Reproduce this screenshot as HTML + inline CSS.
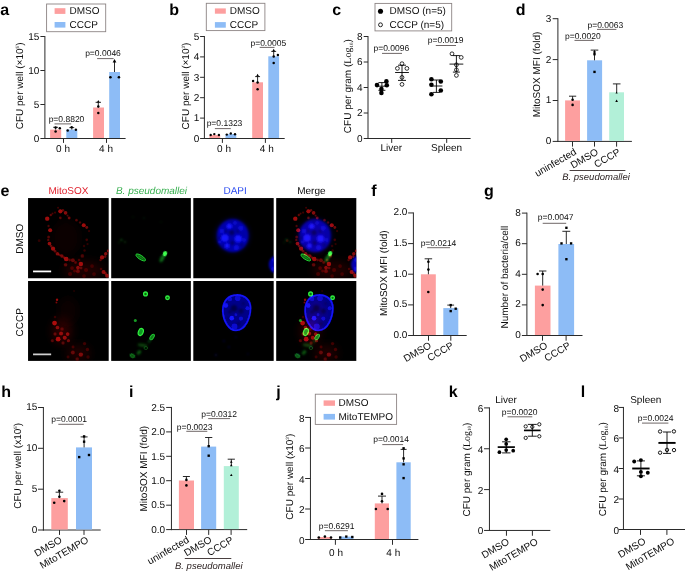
<!DOCTYPE html>
<html><head><meta charset="utf-8"><title>Figure</title>
<style>
html,body{margin:0;padding:0;background:#fff;}
body{width:685px;height:574px;overflow:hidden;}
svg{display:block;font-family:"Liberation Sans", sans-serif;text-rendering:geometricPrecision;}
</style></head><body>
<svg width="685" height="574" viewBox="0 0 685 574">
<rect x="0" y="0" width="685" height="574" fill="#ffffff"/>
<text x="0.20" y="14.60" font-size="16" text-anchor="start" font-weight="bold" font-style="normal" fill="#000">a</text>
<rect x="46.60" y="4.00" width="59.10" height="27.70" fill="#fff" stroke="#8c8484" stroke-width="0.9"/>
<rect x="54.60" y="8.20" width="10.80" height="5.70" fill="#fd9f9f"/>
<rect x="54.60" y="22.00" width="10.80" height="5.60" fill="#8dbcf6"/>
<text x="69.50" y="14.10" font-size="10" text-anchor="start" font-weight="normal" font-style="normal" fill="#0c0c0c">DMSO</text>
<text x="69.50" y="27.80" font-size="10" text-anchor="start" font-weight="normal" font-style="normal" fill="#0c0c0c">CCCP</text>
<line x1="44.90" y1="36.00" x2="44.90" y2="139.00" stroke="#2a2a2a" stroke-width="1.0" stroke-linecap="butt"/>
<line x1="40.40" y1="36.50" x2="44.90" y2="36.50" stroke="#2a2a2a" stroke-width="1.0" stroke-linecap="butt"/>
<text x="39.30" y="39.80" font-size="10" text-anchor="end" font-weight="normal" font-style="normal" fill="#0c0c0c">15</text>
<line x1="40.40" y1="70.50" x2="44.90" y2="70.50" stroke="#2a2a2a" stroke-width="1.0" stroke-linecap="butt"/>
<text x="39.30" y="73.80" font-size="10" text-anchor="end" font-weight="normal" font-style="normal" fill="#0c0c0c">10</text>
<line x1="40.40" y1="104.50" x2="44.90" y2="104.50" stroke="#2a2a2a" stroke-width="1.0" stroke-linecap="butt"/>
<text x="39.30" y="107.80" font-size="10" text-anchor="end" font-weight="normal" font-style="normal" fill="#0c0c0c">5</text>
<line x1="40.40" y1="138.50" x2="44.90" y2="138.50" stroke="#2a2a2a" stroke-width="1.0" stroke-linecap="butt"/>
<text x="39.30" y="141.80" font-size="10" text-anchor="end" font-weight="normal" font-style="normal" fill="#0c0c0c">0</text>
<line x1="44.40" y1="138.50" x2="125.60" y2="138.50" stroke="#2a2a2a" stroke-width="1.0" stroke-linecap="butt"/>
<line x1="63.50" y1="138.50" x2="63.50" y2="142.90" stroke="#2a2a2a" stroke-width="1.0" stroke-linecap="butt"/>
<line x1="106.50" y1="138.50" x2="106.50" y2="142.90" stroke="#2a2a2a" stroke-width="1.0" stroke-linecap="butt"/>
<rect x="50.10" y="129.60" width="11.10" height="8.40" fill="#fd9f9f"/>
<rect x="66.30" y="129.60" width="11.00" height="8.40" fill="#8dbcf6"/>
<rect x="93.10" y="107.50" width="10.90" height="30.50" fill="#fd9f9f"/>
<rect x="109.20" y="72.00" width="10.80" height="66.00" fill="#8dbcf6"/>
<line x1="55.60" y1="127.30" x2="55.60" y2="129.60" stroke="#111" stroke-width="0.9" stroke-linecap="butt"/>
<line x1="53.20" y1="127.30" x2="58.00" y2="127.30" stroke="#111" stroke-width="0.9" stroke-linecap="butt"/>
<line x1="71.80" y1="127.60" x2="71.80" y2="129.60" stroke="#111" stroke-width="0.9" stroke-linecap="butt"/>
<line x1="69.40" y1="127.60" x2="74.20" y2="127.60" stroke="#111" stroke-width="0.9" stroke-linecap="butt"/>
<line x1="98.30" y1="102.30" x2="98.30" y2="107.50" stroke="#111" stroke-width="0.9" stroke-linecap="butt"/>
<line x1="95.60" y1="102.30" x2="101.00" y2="102.30" stroke="#111" stroke-width="0.9" stroke-linecap="butt"/>
<line x1="114.50" y1="61.00" x2="114.50" y2="72.00" stroke="#111" stroke-width="0.9" stroke-linecap="butt"/>
<line x1="114.50" y1="61.00" x2="114.50" y2="61.00" stroke="#111" stroke-width="0.9" stroke-linecap="butt"/>
<circle cx="55.60" cy="131.50" r="1.243" fill="#000"/>
<circle cx="59.80" cy="128.20" r="1.243" fill="#000"/>
<circle cx="55.60" cy="127.60" r="1.243" fill="#000"/>
<circle cx="67.70" cy="130.60" r="1.243" fill="#000"/>
<circle cx="71.70" cy="127.30" r="1.243" fill="#000"/>
<circle cx="75.90" cy="129.80" r="1.243" fill="#000"/>
<circle cx="98.30" cy="113.10" r="1.243" fill="#000"/>
<circle cx="98.30" cy="106.60" r="1.243" fill="#000"/>
<path d="M98.30 99.94 L99.66 102.43 L96.94 102.43Z" fill="#000"/>
<circle cx="110.40" cy="77.30" r="1.299" fill="#000"/>
<circle cx="118.90" cy="77.30" r="1.299" fill="#000"/>
<path d="M114.50 59.00 L116.40 62.48 L112.60 62.48Z" fill="#000"/>
<text x="63.00" y="151.60" font-size="10" text-anchor="middle" font-weight="normal" font-style="normal" fill="#0c0c0c">0 h</text>
<text x="106.00" y="151.60" font-size="10" text-anchor="middle" font-weight="normal" font-style="normal" fill="#0c0c0c">4 h</text>
<text x="23.00" y="85.90" font-size="10" text-anchor="middle" font-weight="normal" font-style="normal" fill="#0c0c0c" transform="rotate(-90 23.00 85.90)">CFU per well (×10<tspan font-size="4.6" dy="-3.8">5</tspan><tspan dy="3.8">)</tspan></text>
<text x="66.50" y="122.00" font-size="8.5" text-anchor="middle" font-weight="normal" font-style="normal" fill="#0c0c0c">p=0.8820</text>
<line x1="54.50" y1="123.90" x2="71.20" y2="123.90" stroke="#4a4040" stroke-width="0.8" stroke-linecap="butt"/>
<text x="103.00" y="55.60" font-size="8.5" text-anchor="middle" font-weight="normal" font-style="normal" fill="#0c0c0c">p=0.0046</text>
<line x1="97.10" y1="58.60" x2="113.60" y2="58.60" stroke="#4a4040" stroke-width="0.8" stroke-linecap="butt"/>
<text x="169.30" y="14.60" font-size="16" text-anchor="start" font-weight="bold" font-style="normal" fill="#000">b</text>
<rect x="206.30" y="3.30" width="58.60" height="27.30" fill="#fff" stroke="#8c8484" stroke-width="0.9"/>
<rect x="214.90" y="8.40" width="10.90" height="5.30" fill="#fd9f9f"/>
<rect x="214.90" y="22.10" width="10.90" height="5.60" fill="#8dbcf6"/>
<text x="229.80" y="14.10" font-size="10" text-anchor="start" font-weight="normal" font-style="normal" fill="#0c0c0c">DMSO</text>
<text x="229.80" y="27.90" font-size="10" text-anchor="start" font-weight="normal" font-style="normal" fill="#0c0c0c">CCCP</text>
<line x1="204.40" y1="36.00" x2="204.40" y2="139.00" stroke="#2a2a2a" stroke-width="1.0" stroke-linecap="butt"/>
<line x1="200.10" y1="36.50" x2="204.40" y2="36.50" stroke="#2a2a2a" stroke-width="1.0" stroke-linecap="butt"/>
<text x="199.30" y="39.80" font-size="10" text-anchor="end" font-weight="normal" font-style="normal" fill="#0c0c0c">5</text>
<line x1="200.10" y1="56.90" x2="204.40" y2="56.90" stroke="#2a2a2a" stroke-width="1.0" stroke-linecap="butt"/>
<text x="199.30" y="60.20" font-size="10" text-anchor="end" font-weight="normal" font-style="normal" fill="#0c0c0c">4</text>
<line x1="200.10" y1="77.30" x2="204.40" y2="77.30" stroke="#2a2a2a" stroke-width="1.0" stroke-linecap="butt"/>
<text x="199.30" y="80.60" font-size="10" text-anchor="end" font-weight="normal" font-style="normal" fill="#0c0c0c">3</text>
<line x1="200.10" y1="97.70" x2="204.40" y2="97.70" stroke="#2a2a2a" stroke-width="1.0" stroke-linecap="butt"/>
<text x="199.30" y="101.00" font-size="10" text-anchor="end" font-weight="normal" font-style="normal" fill="#0c0c0c">2</text>
<line x1="200.10" y1="118.10" x2="204.40" y2="118.10" stroke="#2a2a2a" stroke-width="1.0" stroke-linecap="butt"/>
<text x="199.30" y="121.40" font-size="10" text-anchor="end" font-weight="normal" font-style="normal" fill="#0c0c0c">1</text>
<line x1="200.10" y1="138.50" x2="204.40" y2="138.50" stroke="#2a2a2a" stroke-width="1.0" stroke-linecap="butt"/>
<text x="199.30" y="141.80" font-size="10" text-anchor="end" font-weight="normal" font-style="normal" fill="#0c0c0c">0</text>
<line x1="203.90" y1="138.50" x2="284.70" y2="138.50" stroke="#2a2a2a" stroke-width="1.0" stroke-linecap="butt"/>
<line x1="222.40" y1="138.50" x2="222.40" y2="142.90" stroke="#2a2a2a" stroke-width="1.0" stroke-linecap="butt"/>
<line x1="265.40" y1="138.50" x2="265.40" y2="142.90" stroke="#2a2a2a" stroke-width="1.0" stroke-linecap="butt"/>
<rect x="209.40" y="135.00" width="10.80" height="3.00" fill="#fd9f9f"/>
<rect x="225.50" y="134.10" width="10.80" height="3.90" fill="#8dbcf6"/>
<rect x="252.20" y="82.30" width="10.80" height="55.70" fill="#fd9f9f"/>
<rect x="268.30" y="56.30" width="10.80" height="81.70" fill="#8dbcf6"/>
<line x1="257.60" y1="76.60" x2="257.60" y2="83.00" stroke="#111" stroke-width="0.9" stroke-linecap="butt"/>
<line x1="255.15" y1="76.60" x2="260.05" y2="76.60" stroke="#111" stroke-width="0.9" stroke-linecap="butt"/>
<line x1="273.70" y1="51.40" x2="273.70" y2="57.00" stroke="#111" stroke-width="0.9" stroke-linecap="butt"/>
<line x1="271.25" y1="51.40" x2="276.15" y2="51.40" stroke="#111" stroke-width="0.9" stroke-linecap="butt"/>
<circle cx="210.70" cy="135.00" r="1.186" fill="#000"/>
<circle cx="214.30" cy="134.10" r="1.186" fill="#000"/>
<circle cx="218.90" cy="135.00" r="1.186" fill="#000"/>
<circle cx="226.80" cy="134.60" r="1.186" fill="#000"/>
<circle cx="230.80" cy="133.50" r="1.186" fill="#000"/>
<circle cx="235.00" cy="134.30" r="1.186" fill="#000"/>
<circle cx="253.10" cy="81.00" r="1.243" fill="#000"/>
<circle cx="257.60" cy="89.30" r="1.243" fill="#000"/>
<circle cx="257.60" cy="82.60" r="1.243" fill="#000"/>
<path d="M257.60 73.71 L259.09 76.44 L256.11 76.44Z" fill="#000"/>
<circle cx="277.90" cy="54.90" r="1.243" fill="#000"/>
<circle cx="273.70" cy="63.00" r="1.243" fill="#000"/>
<circle cx="273.70" cy="56.60" r="1.243" fill="#000"/>
<path d="M273.70 48.71 L275.19 51.44 L272.21 51.44Z" fill="#000"/>
<text x="224.00" y="151.60" font-size="10" text-anchor="middle" font-weight="normal" font-style="normal" fill="#0c0c0c">0 h</text>
<text x="266.80" y="151.60" font-size="10" text-anchor="middle" font-weight="normal" font-style="normal" fill="#0c0c0c">4 h</text>
<text x="188.70" y="86.00" font-size="10" text-anchor="middle" font-weight="normal" font-style="normal" fill="#0c0c0c" transform="rotate(-90 188.70 86.00)">CFU per well (×10<tspan font-size="4.6" dy="-3.8">3</tspan><tspan dy="3.8">)</tspan></text>
<text x="224.50" y="125.80" font-size="8.5" text-anchor="middle" font-weight="normal" font-style="normal" fill="#0c0c0c">p=0.1323</text>
<line x1="214.90" y1="128.60" x2="230.80" y2="128.60" stroke="#4a4040" stroke-width="0.8" stroke-linecap="butt"/>
<text x="268.30" y="45.70" font-size="8.5" text-anchor="middle" font-weight="normal" font-style="normal" fill="#0c0c0c">p=0.0005</text>
<line x1="259.70" y1="47.40" x2="274.50" y2="47.40" stroke="#4a4040" stroke-width="0.8" stroke-linecap="butt"/>
<text x="332.30" y="14.80" font-size="16" text-anchor="start" font-weight="bold" font-style="normal" fill="#000">c</text>
<rect x="375.00" y="3.40" width="76.70" height="27.50" fill="#fff" stroke="#8c8484" stroke-width="0.9"/>
<circle cx="380.5" cy="11.2" r="2.55" fill="#000"/>
<circle cx="380.5" cy="24.8" r="1.95" fill="#fff" stroke="#000" stroke-width="0.85"/>
<text x="389.50" y="14.20" font-size="10" text-anchor="start" font-weight="normal" font-style="normal" fill="#0c0c0c">DMSO (n=5)</text>
<text x="389.50" y="27.90" font-size="10" text-anchor="start" font-weight="normal" font-style="normal" fill="#0c0c0c">CCCP (n=5)</text>
<line x1="368.00" y1="36.00" x2="368.00" y2="139.00" stroke="#2a2a2a" stroke-width="1.0" stroke-linecap="butt"/>
<line x1="363.70" y1="36.50" x2="368.00" y2="36.50" stroke="#2a2a2a" stroke-width="1.0" stroke-linecap="butt"/>
<text x="362.50" y="39.80" font-size="10" text-anchor="end" font-weight="normal" font-style="normal" fill="#0c0c0c">8</text>
<line x1="363.70" y1="62.00" x2="368.00" y2="62.00" stroke="#2a2a2a" stroke-width="1.0" stroke-linecap="butt"/>
<text x="362.50" y="65.30" font-size="10" text-anchor="end" font-weight="normal" font-style="normal" fill="#0c0c0c">6</text>
<line x1="363.70" y1="87.50" x2="368.00" y2="87.50" stroke="#2a2a2a" stroke-width="1.0" stroke-linecap="butt"/>
<text x="362.50" y="90.80" font-size="10" text-anchor="end" font-weight="normal" font-style="normal" fill="#0c0c0c">4</text>
<line x1="363.70" y1="113.00" x2="368.00" y2="113.00" stroke="#2a2a2a" stroke-width="1.0" stroke-linecap="butt"/>
<text x="362.50" y="116.30" font-size="10" text-anchor="end" font-weight="normal" font-style="normal" fill="#0c0c0c">2</text>
<line x1="363.70" y1="138.50" x2="368.00" y2="138.50" stroke="#2a2a2a" stroke-width="1.0" stroke-linecap="butt"/>
<text x="362.50" y="141.80" font-size="10" text-anchor="end" font-weight="normal" font-style="normal" fill="#0c0c0c">0</text>
<line x1="367.50" y1="138.50" x2="470.60" y2="138.50" stroke="#2a2a2a" stroke-width="1.0" stroke-linecap="butt"/>
<line x1="391.70" y1="138.50" x2="391.70" y2="142.90" stroke="#2a2a2a" stroke-width="1.0" stroke-linecap="butt"/>
<line x1="446.70" y1="138.50" x2="446.70" y2="142.90" stroke="#2a2a2a" stroke-width="1.0" stroke-linecap="butt"/>
<text x="391.30" y="151.30" font-size="10" text-anchor="middle" font-weight="normal" font-style="normal" fill="#0c0c0c">Liver</text>
<text x="446.60" y="151.30" font-size="10" text-anchor="middle" font-weight="normal" font-style="normal" fill="#0c0c0c">Spleen</text>
<text x="351.20" y="86.20" font-size="10" text-anchor="middle" font-weight="normal" font-style="normal" fill="#0c0c0c" transform="rotate(-90 351.20 86.20)">CFU per gram (<tspan font-family='"Liberation Serif", serif' font-size="10">Log</tspan><tspan font-family='"Liberation Serif", serif' font-size="5" dy="1.5">10</tspan><tspan dy="-1.5">)</tspan></text>
<text x="391.30" y="50.80" font-size="8.5" text-anchor="middle" font-weight="normal" font-style="normal" fill="#0c0c0c">p=0.0096</text>
<line x1="382.00" y1="53.40" x2="402.00" y2="53.40" stroke="#4a4040" stroke-width="0.8" stroke-linecap="butt"/>
<text x="445.60" y="42.90" font-size="8.5" text-anchor="middle" font-weight="normal" font-style="normal" fill="#0c0c0c">p=0.0019</text>
<line x1="435.80" y1="45.50" x2="456.00" y2="45.50" stroke="#4a4040" stroke-width="0.8" stroke-linecap="butt"/>
<line x1="381.90" y1="82.60" x2="381.90" y2="90.30" stroke="#000" stroke-width="0.9" stroke-linecap="butt"/>
<line x1="378.40" y1="82.60" x2="385.40" y2="82.60" stroke="#000" stroke-width="0.9" stroke-linecap="butt"/>
<line x1="378.40" y1="90.30" x2="385.40" y2="90.30" stroke="#000" stroke-width="0.9" stroke-linecap="butt"/>
<line x1="376.65" y1="86.20" x2="387.15" y2="86.20" stroke="#000" stroke-width="0.9" stroke-linecap="butt"/>
<circle cx="377.00" cy="85.10" r="2.3" fill="#000"/>
<circle cx="386.40" cy="81.40" r="2.3" fill="#000"/>
<circle cx="381.40" cy="89.00" r="2.3" fill="#000"/>
<circle cx="386.80" cy="85.30" r="2.3" fill="#000"/>
<circle cx="381.40" cy="92.90" r="2.3" fill="#000"/>
<line x1="402.00" y1="65.20" x2="402.00" y2="80.40" stroke="#000" stroke-width="0.9" stroke-linecap="butt"/>
<line x1="398.00" y1="65.20" x2="406.00" y2="65.20" stroke="#000" stroke-width="0.9" stroke-linecap="butt"/>
<line x1="398.00" y1="80.40" x2="406.00" y2="80.40" stroke="#000" stroke-width="0.9" stroke-linecap="butt"/>
<line x1="395.10" y1="72.50" x2="408.90" y2="72.50" stroke="#000" stroke-width="0.9" stroke-linecap="butt"/>
<circle cx="402.00" cy="63.70" r="1.9" fill="none" stroke="#000" stroke-width="0.8"/>
<circle cx="397.40" cy="68.40" r="1.9" fill="none" stroke="#000" stroke-width="0.8"/>
<circle cx="406.90" cy="68.40" r="1.9" fill="none" stroke="#000" stroke-width="0.8"/>
<circle cx="402.00" cy="77.40" r="1.9" fill="none" stroke="#000" stroke-width="0.8"/>
<circle cx="402.00" cy="84.40" r="1.9" fill="none" stroke="#000" stroke-width="0.8"/>
<line x1="436.40" y1="80.00" x2="436.40" y2="92.40" stroke="#000" stroke-width="0.9" stroke-linecap="butt"/>
<line x1="432.90" y1="80.00" x2="439.90" y2="80.00" stroke="#000" stroke-width="0.9" stroke-linecap="butt"/>
<line x1="432.90" y1="92.40" x2="439.90" y2="92.40" stroke="#000" stroke-width="0.9" stroke-linecap="butt"/>
<line x1="430.40" y1="86.00" x2="442.40" y2="86.00" stroke="#000" stroke-width="0.9" stroke-linecap="butt"/>
<circle cx="431.40" cy="79.30" r="2.3" fill="#000"/>
<circle cx="440.80" cy="81.50" r="2.3" fill="#000"/>
<circle cx="431.40" cy="84.80" r="2.3" fill="#000"/>
<circle cx="440.80" cy="90.50" r="2.3" fill="#000"/>
<circle cx="431.40" cy="94.30" r="2.3" fill="#000"/>
<line x1="456.40" y1="55.60" x2="456.40" y2="72.10" stroke="#000" stroke-width="0.9" stroke-linecap="butt"/>
<line x1="452.90" y1="55.60" x2="459.90" y2="55.60" stroke="#000" stroke-width="0.9" stroke-linecap="butt"/>
<line x1="452.90" y1="72.10" x2="459.90" y2="72.10" stroke="#000" stroke-width="0.9" stroke-linecap="butt"/>
<line x1="449.50" y1="64.10" x2="463.30" y2="64.10" stroke="#000" stroke-width="0.9" stroke-linecap="butt"/>
<circle cx="452.00" cy="53.80" r="1.9" fill="none" stroke="#000" stroke-width="0.8"/>
<circle cx="461.20" cy="57.40" r="1.9" fill="none" stroke="#000" stroke-width="0.8"/>
<circle cx="456.40" cy="64.80" r="1.9" fill="none" stroke="#000" stroke-width="0.8"/>
<circle cx="456.40" cy="69.80" r="1.9" fill="none" stroke="#000" stroke-width="0.8"/>
<circle cx="456.40" cy="75.40" r="1.9" fill="none" stroke="#000" stroke-width="0.8"/>
<text x="515.80" y="15.30" font-size="16" text-anchor="start" font-weight="bold" font-style="normal" fill="#000">d</text>
<line x1="557.90" y1="18.20" x2="557.90" y2="141.90" stroke="#2a2a2a" stroke-width="1.0" stroke-linecap="butt"/>
<line x1="552.70" y1="18.70" x2="557.90" y2="18.70" stroke="#2a2a2a" stroke-width="1.0" stroke-linecap="butt"/>
<text x="551.20" y="21.60" font-size="10" text-anchor="end" font-weight="normal" font-style="normal" fill="#0c0c0c">3</text>
<line x1="552.70" y1="59.60" x2="557.90" y2="59.60" stroke="#2a2a2a" stroke-width="1.0" stroke-linecap="butt"/>
<text x="551.20" y="62.50" font-size="10" text-anchor="end" font-weight="normal" font-style="normal" fill="#0c0c0c">2</text>
<line x1="552.70" y1="100.50" x2="557.90" y2="100.50" stroke="#2a2a2a" stroke-width="1.0" stroke-linecap="butt"/>
<text x="551.20" y="103.40" font-size="10" text-anchor="end" font-weight="normal" font-style="normal" fill="#0c0c0c">1</text>
<line x1="552.70" y1="141.40" x2="557.90" y2="141.40" stroke="#2a2a2a" stroke-width="1.0" stroke-linecap="butt"/>
<text x="551.20" y="144.30" font-size="10" text-anchor="end" font-weight="normal" font-style="normal" fill="#0c0c0c">0</text>
<line x1="557.40" y1="141.40" x2="631.90" y2="141.40" stroke="#2a2a2a" stroke-width="1.0" stroke-linecap="butt"/>
<line x1="572.50" y1="141.40" x2="572.50" y2="146.60" stroke="#2a2a2a" stroke-width="1.0" stroke-linecap="butt"/>
<line x1="594.50" y1="141.40" x2="594.50" y2="146.60" stroke="#2a2a2a" stroke-width="1.0" stroke-linecap="butt"/>
<line x1="616.60" y1="141.40" x2="616.60" y2="146.60" stroke="#2a2a2a" stroke-width="1.0" stroke-linecap="butt"/>
<rect x="565.10" y="100.40" width="14.90" height="40.50" fill="#fd9f9f"/>
<rect x="587.10" y="60.30" width="15.00" height="80.60" fill="#8dbcf6"/>
<rect x="609.20" y="92.30" width="14.80" height="48.60" fill="#b2f0d8"/>
<line x1="572.60" y1="96.20" x2="572.60" y2="100.40" stroke="#111" stroke-width="0.9" stroke-linecap="butt"/>
<line x1="569.00" y1="96.20" x2="576.20" y2="96.20" stroke="#111" stroke-width="0.9" stroke-linecap="butt"/>
<line x1="594.50" y1="50.10" x2="594.50" y2="60.30" stroke="#111" stroke-width="0.9" stroke-linecap="butt"/>
<line x1="590.70" y1="50.10" x2="598.30" y2="50.10" stroke="#111" stroke-width="0.9" stroke-linecap="butt"/>
<line x1="616.70" y1="83.90" x2="616.70" y2="92.30" stroke="#111" stroke-width="0.9" stroke-linecap="butt"/>
<line x1="612.90" y1="83.90" x2="620.50" y2="83.90" stroke="#111" stroke-width="0.9" stroke-linecap="butt"/>
<circle cx="572.60" cy="99.80" r="1.299" fill="#000"/>
<circle cx="572.60" cy="104.90" r="1.299" fill="#000"/>
<rect x="593.31" y="53.01" width="2.372" height="2.372" fill="#000"/>
<rect x="593.31" y="70.71" width="2.372" height="2.372" fill="#000"/>
<rect x="593.48" y="50.98" width="2.034" height="2.034" fill="#000"/>
<path d="M616.60 99.44 L617.96 101.93 L615.24 101.93Z" fill="#000"/>
<path d="M616.60 91.62 L617.68 93.60 L615.52 93.60Z" fill="#000"/>
<text x="539.90" y="74.50" font-size="10" text-anchor="middle" font-weight="normal" font-style="normal" fill="#0c0c0c" transform="rotate(-90 539.90 74.50)">MitoSOX MFI (fold)</text>
<text x="605.30" y="28.00" font-size="8.5" text-anchor="middle" font-weight="normal" font-style="normal" fill="#0c0c0c">p=0.0063</text>
<line x1="597.00" y1="29.40" x2="616.40" y2="29.40" stroke="#4a4040" stroke-width="0.8" stroke-linecap="butt"/>
<text x="582.80" y="38.80" font-size="8.5" text-anchor="middle" font-weight="normal" font-style="normal" fill="#0c0c0c">p=0.0020</text>
<line x1="574.50" y1="40.40" x2="593.90" y2="40.40" stroke="#4a4040" stroke-width="0.8" stroke-linecap="butt"/>
<text x="577.20" y="153.80" font-size="10" text-anchor="end" font-weight="normal" font-style="normal" fill="#0c0c0c" transform="rotate(-30 577.20 153.80)">uninfected</text>
<text x="599.00" y="153.80" font-size="10" text-anchor="end" font-weight="normal" font-style="normal" fill="#0c0c0c" transform="rotate(-30 599.00 153.80)">DMSO</text>
<text x="621.00" y="153.80" font-size="10" text-anchor="end" font-weight="normal" font-style="normal" fill="#0c0c0c" transform="rotate(-30 621.00 153.80)">CCCP</text>
<line x1="569.60" y1="170.50" x2="625.40" y2="170.50" stroke="#4a4040" stroke-width="1.0" stroke-linecap="butt"/>
<text x="596.00" y="179.80" font-size="9.5" text-anchor="middle" font-weight="normal" font-style="italic" fill="#2e2424">B. pseudomallei</text>
<text x="0.50" y="196.20" font-size="16" text-anchor="start" font-weight="bold" font-style="normal" fill="#000">e</text>
<text x="68.40" y="193.50" font-size="10" text-anchor="middle" font-weight="normal" font-style="normal" fill="#e0202c">MitoSOX</text>
<text x="151.50" y="193.50" font-size="10" text-anchor="middle" font-weight="normal" font-style="italic" fill="#38b050">B. pseudomallei</text>
<text x="235.10" y="193.50" font-size="10" text-anchor="middle" font-weight="normal" font-style="normal" fill="#2c4cf0">DAPI</text>
<text x="311.40" y="193.50" font-size="10" text-anchor="middle" font-weight="normal" font-style="normal" fill="#0c0c0c">Merge</text>
<text x="23.30" y="238.80" font-size="10" text-anchor="middle" font-weight="normal" font-style="normal" fill="#0c0c0c" transform="rotate(-90 23.30 238.80)">DMSO</text>
<text x="23.30" y="322.20" font-size="10" text-anchor="middle" font-weight="normal" font-style="normal" fill="#0c0c0c" transform="rotate(-90 23.30 322.20)">CCCP</text>
<defs>
<filter id="b05" x="-50%" y="-50%" width="200%" height="200%"><feGaussianBlur stdDeviation="0.5"/></filter>
<filter id="b06" x="-50%" y="-50%" width="200%" height="200%"><feGaussianBlur stdDeviation="0.6"/></filter>
<filter id="b08" x="-50%" y="-50%" width="200%" height="200%"><feGaussianBlur stdDeviation="0.8"/></filter>
<filter id="b12" x="-50%" y="-50%" width="200%" height="200%"><feGaussianBlur stdDeviation="1.2"/></filter>
<filter id="b2" x="-50%" y="-50%" width="200%" height="200%"><feGaussianBlur stdDeviation="2"/></filter>
<filter id="b4" x="-50%" y="-50%" width="200%" height="200%"><feGaussianBlur stdDeviation="4"/></filter>
<clipPath id="pc"><rect x="0" y="0" width="80.65" height="80.2"/></clipPath>
<g id="R1"><ellipse cx="56" cy="72" rx="20" ry="9" fill="#500" fill-opacity="0.35" filter="url(#b4)"/><ellipse cx="38" cy="40" rx="14" ry="18" fill="#300" fill-opacity="0.2" filter="url(#b4)"/><g filter="url(#b06)"><circle cx="32.3" cy="13.3" r="2.12" fill="#d81212" fill-opacity="0.72"/><circle cx="37.5" cy="14.8" r="1.84" fill="#d81212" fill-opacity="0.61"/><circle cx="19.2" cy="20.6" r="2.21" fill="#d81212" fill-opacity="0.72"/><circle cx="22.8" cy="17.0" r="1.29" fill="#d81212" fill-opacity="0.40"/><circle cx="32.3" cy="19.9" r="1.38" fill="#d81212" fill-opacity="0.40"/><circle cx="41.1" cy="19.9" r="1.47" fill="#d81212" fill-opacity="0.50"/><circle cx="48.4" cy="22.1" r="1.38" fill="#d81212" fill-opacity="0.36"/><circle cx="52" cy="24.5" r="1.20" fill="#d81212" fill-opacity="0.32"/><circle cx="55.7" cy="27.2" r="2.02" fill="#d81212" fill-opacity="0.72"/><circle cx="58.7" cy="29.4" r="1.47" fill="#d81212" fill-opacity="0.50"/><circle cx="22.1" cy="32.3" r="2.02" fill="#d81212" fill-opacity="0.72"/><circle cx="20.6" cy="38.9" r="1.56" fill="#d81212" fill-opacity="0.36"/><circle cx="21.4" cy="45.5" r="1.84" fill="#d81212" fill-opacity="0.68"/><circle cx="25.0" cy="50.6" r="2.12" fill="#d81212" fill-opacity="0.72"/><circle cx="29.4" cy="55.7" r="1.84" fill="#d81212" fill-opacity="0.58"/><circle cx="33.8" cy="57.9" r="1.75" fill="#d81212" fill-opacity="0.54"/><circle cx="38.2" cy="60.9" r="2.30" fill="#d81212" fill-opacity="0.72"/><circle cx="44.8" cy="62.3" r="2.02" fill="#d81212" fill-opacity="0.43"/><circle cx="37.5" cy="66.7" r="1.84" fill="#d81212" fill-opacity="0.40"/><circle cx="52.8" cy="66.0" r="2.21" fill="#d81212" fill-opacity="0.72"/><circle cx="49.9" cy="69.6" r="1.84" fill="#d81212" fill-opacity="0.58"/><circle cx="49.9" cy="73.3" r="2.02" fill="#d81212" fill-opacity="0.40"/><circle cx="54.3" cy="57.9" r="1.84" fill="#d81212" fill-opacity="0.32"/><circle cx="58.7" cy="41.8" r="1.29" fill="#d81212" fill-opacity="0.29"/><circle cx="74.0" cy="59.4" r="2.12" fill="#d81212" fill-opacity="0.72"/><circle cx="77.7" cy="55.7" r="1.75" fill="#d81212" fill-opacity="0.61"/><circle cx="80.2" cy="53.0" r="1.47" fill="#d81212" fill-opacity="0.58"/><circle cx="75.5" cy="74.0" r="2.02" fill="#d81212" fill-opacity="0.65"/><circle cx="79.1" cy="77.7" r="2.02" fill="#d81212" fill-opacity="0.65"/><circle cx="11.1" cy="42.6" r="1.38" fill="#d81212" fill-opacity="0.22"/><circle cx="56" cy="48" r="1.20" fill="#d81212" fill-opacity="0.22"/><circle cx="27" cy="14.5" r="1.10" fill="#d81212" fill-opacity="0.29"/><circle cx="44" cy="70" r="1.84" fill="#d81212" fill-opacity="0.29"/><circle cx="58" cy="72" r="2.02" fill="#d81212" fill-opacity="0.25"/><circle cx="64" cy="68" r="1.84" fill="#d81212" fill-opacity="0.22"/><circle cx="42" cy="76" r="2.02" fill="#d81212" fill-opacity="0.25"/><circle cx="56" cy="78" r="1.84" fill="#d81212" fill-opacity="0.22"/><circle cx="66" cy="76" r="1.84" fill="#d81212" fill-opacity="0.22"/><circle cx="30" cy="9.8" r="1.01" fill="#d81212" fill-opacity="0.29"/><circle cx="24.5" cy="15.5" r="1.10" fill="#d81212" fill-opacity="0.32"/><circle cx="35" cy="12.2" r="1.20" fill="#d81212" fill-opacity="0.43"/><circle cx="39.5" cy="17.5" r="1.10" fill="#d81212" fill-opacity="0.36"/><circle cx="20.5" cy="28" r="1.20" fill="#d81212" fill-opacity="0.32"/><circle cx="20.2" cy="42" r="1.29" fill="#d81212" fill-opacity="0.36"/><circle cx="23" cy="48" r="1.38" fill="#d81212" fill-opacity="0.43"/><circle cx="27" cy="53.2" r="1.38" fill="#d81212" fill-opacity="0.43"/><circle cx="31.5" cy="57" r="1.29" fill="#d81212" fill-opacity="0.40"/><circle cx="36" cy="59.5" r="1.38" fill="#d81212" fill-opacity="0.43"/><circle cx="41.5" cy="62" r="1.47" fill="#d81212" fill-opacity="0.36"/><circle cx="47.5" cy="64.5" r="1.47" fill="#d81212" fill-opacity="0.36"/><circle cx="51" cy="62" r="1.29" fill="#d81212" fill-opacity="0.29"/><circle cx="53" cy="70" r="1.47" fill="#d81212" fill-opacity="0.36"/><circle cx="46.5" cy="73" r="1.47" fill="#d81212" fill-opacity="0.29"/><circle cx="77" cy="58.5" r="1.38" fill="#d81212" fill-opacity="0.43"/><circle cx="72.5" cy="62" r="1.29" fill="#d81212" fill-opacity="0.36"/><circle cx="77.5" cy="75.5" r="1.47" fill="#d81212" fill-opacity="0.43"/><circle cx="73" cy="71" r="1.29" fill="#d81212" fill-opacity="0.29"/><circle cx="61" cy="33" r="1.10" fill="#d81212" fill-opacity="0.25"/><circle cx="59.5" cy="46" r="1.10" fill="#d81212" fill-opacity="0.22"/><circle cx="56.5" cy="52.5" r="1.20" fill="#d81212" fill-opacity="0.25"/></g></g>
<g id="G1"><g filter="url(#b05)"><ellipse cx="29.7" cy="59.4" rx="5.6" ry="2.0" transform="rotate(33 29.7 59.4)" fill="#0a6010" stroke="#24d434" stroke-width="0.9"/><line x1="27" y1="57.7" x2="32.4" y2="61.1" stroke="#20c030" stroke-width="0.5"/></g><ellipse cx="51.2" cy="60.3" rx="1.8" ry="4.2" transform="rotate(28 51.2 60.3)" fill="#109020" fill-opacity="0.8" filter="url(#b12)"/><ellipse cx="54.0" cy="55.6" rx="2.1" ry="2.7" transform="rotate(20 54 55.6)" fill="#40ff50" filter="url(#b05)"/><g filter="url(#b08)"><circle cx="10.4" cy="41.8" r="1.20" fill="#20c030" fill-opacity="0.35"/><circle cx="14.0" cy="44.0" r="1.00" fill="#20c030" fill-opacity="0.30"/><circle cx="8" cy="44.5" r="0.90" fill="#20c030" fill-opacity="0.20"/><circle cx="33" cy="20" r="1.00" fill="#20c030" fill-opacity="0.12"/><circle cx="22" cy="19" r="1.00" fill="#20c030" fill-opacity="0.10"/><circle cx="50" cy="24" r="1.00" fill="#20c030" fill-opacity="0.10"/></g></g>
<g id="B1"><circle cx="38.9" cy="37.5" r="17.5" fill="#000090" fill-opacity="0.35" filter="url(#b2)"/><ellipse cx="38.9" cy="37.6" rx="15.8" ry="16.4" fill="#0404a8" filter="url(#b08)"/><g filter="url(#b12)"><circle cx="38" cy="34.5" r="2.60" fill="#000048" fill-opacity="0.70"/><circle cx="38.5" cy="45" r="2.20" fill="#000048" fill-opacity="0.55"/><circle cx="25.5" cy="40" r="1.80" fill="#000048" fill-opacity="0.45"/><circle cx="44" cy="33" r="1.80" fill="#000048" fill-opacity="0.50"/><circle cx="32" cy="33" r="1.60" fill="#000048" fill-opacity="0.45"/><circle cx="48" cy="47" r="2.00" fill="#000048" fill-opacity="0.40"/><circle cx="30" cy="48" r="1.60" fill="#000048" fill-opacity="0.40"/><circle cx="38" cy="24" r="1.80" fill="#000048" fill-opacity="0.35"/></g><g filter="url(#b08)"><circle cx="31.0" cy="40.0" r="3.80" fill="#1414ff" fill-opacity="1.00"/><circle cx="44.4" cy="40.6" r="3.60" fill="#1414ff" fill-opacity="1.00"/><circle cx="35.5" cy="28.2" r="2.80" fill="#1414ff" fill-opacity="1.00"/><circle cx="33.2" cy="47.8" r="2.50" fill="#1414ff" fill-opacity="1.00"/><circle cx="28" cy="33" r="2.40" fill="#1414ff" fill-opacity="0.60"/><circle cx="47" cy="30" r="2.60" fill="#1414ff" fill-opacity="0.55"/><circle cx="42.5" cy="49.5" r="2.60" fill="#1414ff" fill-opacity="0.60"/><circle cx="50.5" cy="42" r="2.00" fill="#1414ff" fill-opacity="0.50"/><circle cx="41" cy="25" r="2.00" fill="#1414ff" fill-opacity="0.50"/><circle cx="26" cy="44" r="1.80" fill="#1414ff" fill-opacity="0.50"/></g><circle cx="84.5" cy="66.5" r="9.5" fill="#0505b0" filter="url(#b12)"/><g filter="url(#b12)"><circle cx="80.5" cy="62" r="2.00" fill="#1414ff" fill-opacity="0.90"/><circle cx="80" cy="71" r="2.20" fill="#1414ff" fill-opacity="0.90"/></g></g>
<g id="R2"><ellipse cx="34" cy="50" rx="10" ry="13" fill="#600" fill-opacity="0.4" filter="url(#b4)"/><ellipse cx="50" cy="72" rx="12" ry="8" fill="#500" fill-opacity="0.35" filter="url(#b4)"/><ellipse cx="40" cy="30" rx="10" ry="14" fill="#300" fill-opacity="0.2" filter="url(#b4)"/><g filter="url(#b06)"><circle cx="29.0" cy="18.7" r="1.20" fill="#d81212" fill-opacity="0.70"/><circle cx="28.4" cy="21.4" r="1.01" fill="#d81212" fill-opacity="0.55"/><circle cx="26.5" cy="42.1" r="2.39" fill="#d81212" fill-opacity="0.78"/><circle cx="29.4" cy="46.5" r="1.84" fill="#d81212" fill-opacity="0.58"/><circle cx="33.0" cy="52.4" r="2.02" fill="#d81212" fill-opacity="0.62"/><circle cx="39.6" cy="53.1" r="1.84" fill="#d81212" fill-opacity="0.62"/><circle cx="30.1" cy="58.2" r="2.39" fill="#d81212" fill-opacity="0.78"/><circle cx="36.7" cy="56.8" r="2.02" fill="#d81212" fill-opacity="0.66"/><circle cx="40.4" cy="59.7" r="1.66" fill="#d81212" fill-opacity="0.47"/><circle cx="24.3" cy="59.7" r="1.66" fill="#d81212" fill-opacity="0.35"/><circle cx="44.8" cy="71.4" r="2.02" fill="#d81212" fill-opacity="0.39"/><circle cx="52.8" cy="73.6" r="2.21" fill="#d81212" fill-opacity="0.51"/><circle cx="56.5" cy="62.6" r="1.66" fill="#d81212" fill-opacity="0.27"/><circle cx="59.4" cy="68.5" r="1.66" fill="#d81212" fill-opacity="0.27"/><circle cx="49.2" cy="78.0" r="1.84" fill="#d81212" fill-opacity="0.31"/><circle cx="34" cy="48" r="1.84" fill="#d81212" fill-opacity="0.31"/><circle cx="27" cy="53" r="1.66" fill="#d81212" fill-opacity="0.39"/><circle cx="35" cy="62" r="1.66" fill="#d81212" fill-opacity="0.35"/><circle cx="45" cy="66" r="1.47" fill="#d81212" fill-opacity="0.27"/><circle cx="60" cy="76" r="1.66" fill="#d81212" fill-opacity="0.23"/><circle cx="40" cy="76" r="1.47" fill="#d81212" fill-opacity="0.23"/><circle cx="46" cy="10" r="0.92" fill="#d81212" fill-opacity="0.16"/><circle cx="27" cy="36" r="1.29" fill="#d81212" fill-opacity="0.23"/></g></g>
<g id="G2"><g filter="url(#b05)"><circle cx="34.5" cy="12.9" r="1.9" fill="#0a7010" stroke="#30f040" stroke-width="1.3"/><circle cx="56.5" cy="16.8" r="1.8" fill="#0a7010" stroke="#30f040" stroke-width="1.3"/><ellipse cx="29.8" cy="51.0" rx="2.4" ry="3.6" transform="rotate(20 29.8 51)" fill="#109a20" stroke="#30f040" stroke-width="1.2"/><ellipse cx="41.1" cy="56.0" rx="1.6" ry="3.2" transform="rotate(35 41.1 56)" fill="#0c7a18" stroke="#22c432" stroke-width="1.0"/></g><g filter="url(#b05)"><circle cx="24.3" cy="39.5" r="1.50" fill="#20d030" fill-opacity="0.75"/></g><ellipse cx="31.5" cy="64.2" rx="5" ry="1.6" transform="rotate(8 31.5 64.2)" fill="#107018" fill-opacity="0.6" filter="url(#b08)"/><ellipse cx="34.8" cy="67" rx="1.8" ry="1.5" fill="none" stroke="#128a20" stroke-opacity="0.7" stroke-width="0.7" filter="url(#b05)"/><ellipse cx="28.0" cy="71.4" rx="1.6" ry="2.6" transform="rotate(40 28 71.4)" fill="#109020" fill-opacity="0.7" filter="url(#b08)"/><ellipse cx="21.4" cy="74.8" rx="2.6" ry="1.7" transform="rotate(30 21.4 74.8)" fill="#075010" stroke="#18a028" stroke-opacity="0.8" stroke-width="0.8" filter="url(#b05)"/><ellipse cx="38.5" cy="60" rx="1.2" ry="2.4" transform="rotate(35 38.5 60)" fill="#0c6a18" fill-opacity="0.6" filter="url(#b08)"/></g>
<g id="B2"><g transform="translate(42.8 31.8) scale(0.93 0.935) translate(-42.8 -31.8)"><path d="M42.5 12.8 C51 12.2 58 18 57.8 27 C57.6 36 53 50.5 42 50.6 C34 50.6 28.5 40 28 30 C27.6 19 34 13.2 42.5 12.8Z" fill="#000090" fill-opacity="0.3" filter="url(#b2)"/><path d="M42.5 12.8 C51 12.2 58 18 57.8 27 C57.6 36 53 50.5 42 50.6 C34 50.6 28.5 40 28 30 C27.6 19 34 13.2 42.5 12.8Z" fill="#030388" stroke="#1212f4" stroke-width="2.0" filter="url(#b08)"/><g filter="url(#b12)"><circle cx="40" cy="27" r="3.60" fill="#000030" fill-opacity="0.70"/><circle cx="47.5" cy="30" r="2.80" fill="#000030" fill-opacity="0.60"/><circle cx="35.5" cy="31" r="2.20" fill="#000030" fill-opacity="0.50"/><circle cx="45" cy="43.5" r="2.00" fill="#000030" fill-opacity="0.45"/><circle cx="34" cy="38" r="1.60" fill="#000030" fill-opacity="0.40"/><circle cx="50" cy="22" r="2.00" fill="#000030" fill-opacity="0.35"/></g><g filter="url(#b08)"><circle cx="37.6" cy="37.5" r="2.50" fill="#1414ff" fill-opacity="1.00"/><circle cx="31.2" cy="24" r="2.60" fill="#1414ff" fill-opacity="0.85"/><circle cx="44" cy="16.3" r="3.00" fill="#1414ff" fill-opacity="0.60"/><circle cx="54.5" cy="27" r="2.20" fill="#1414ff" fill-opacity="0.70"/><circle cx="47.5" cy="38" r="2.20" fill="#1414ff" fill-opacity="0.60"/><circle cx="40.5" cy="46.5" r="3.20" fill="#1414ff" fill-opacity="0.60"/><circle cx="35.5" cy="17" r="2.40" fill="#1414ff" fill-opacity="0.60"/><circle cx="42" cy="34" r="1.60" fill="#1414ff" fill-opacity="0.50"/></g></g><g filter="url(#b08)"><circle cx="30" cy="60" r="1.00" fill="#2020e0" fill-opacity="0.25"/><circle cx="35" cy="66" r="1.00" fill="#2020e0" fill-opacity="0.25"/><circle cx="22" cy="74" r="1.00" fill="#2020e0" fill-opacity="0.30"/><circle cx="42" cy="56" r="1.00" fill="#2020e0" fill-opacity="0.20"/><circle cx="54" cy="73" r="1.00" fill="#2020e0" fill-opacity="0.15"/></g></g>
</defs>
<g transform="translate(28.05 198.05)"><rect x="0" y="0" width="80.65" height="80.2" fill="#000"/><svg x="0" y="0" width="80.65" height="80.2" overflow="hidden"><g style="isolation:isolate" transform="translate(0.0 0)"><use href="#R1" style="mix-blend-mode:screen"/></g></svg><rect x="5.0" y="72.5" width="18.1" height="1.75" fill="#ffffff"/></g>
<g transform="translate(111.2 198.05)"><rect x="0" y="0" width="79.65" height="80.2" fill="#000"/><svg x="0" y="0" width="79.65" height="80.2" overflow="hidden"><g style="isolation:isolate" transform="translate(-0.2 0)"><use href="#G1" style="mix-blend-mode:screen"/></g></svg></g>
<g transform="translate(193.3 198.05)"><rect x="0" y="0" width="80.4" height="80.2" fill="#000"/><svg x="0" y="0" width="80.4" height="80.2" overflow="hidden"><g style="isolation:isolate" transform="translate(0.5 0)"><use href="#B1" style="mix-blend-mode:screen"/></g></svg></g>
<g transform="translate(276.2 198.05)"><rect x="0" y="0" width="80.1" height="80.2" fill="#000"/><svg x="0" y="0" width="80.1" height="80.2" overflow="hidden"><g style="isolation:isolate" transform="translate(-0.1 0)"><use href="#R1" style="mix-blend-mode:screen"/><use href="#B1" style="mix-blend-mode:screen"/><use href="#G1" style="mix-blend-mode:screen"/></g></svg></g>
<g transform="translate(28.05 281.0)"><rect x="0" y="0" width="80.65" height="79.9" fill="#000"/><svg x="0" y="0" width="80.65" height="79.9" overflow="hidden"><g style="isolation:isolate" transform="translate(0.0 0)"><use href="#R2" style="mix-blend-mode:screen"/></g></svg><rect x="5.0" y="72.5" width="18.1" height="1.75" fill="#d0d0d0"/></g>
<g transform="translate(111.2 281.0)"><rect x="0" y="0" width="79.65" height="79.9" fill="#000"/><svg x="0" y="0" width="79.65" height="79.9" overflow="hidden"><g style="isolation:isolate" transform="translate(-0.2 0)"><use href="#G2" style="mix-blend-mode:screen"/></g></svg></g>
<g transform="translate(193.3 281.0)"><rect x="0" y="0" width="80.4" height="79.9" fill="#000"/><svg x="0" y="0" width="80.4" height="79.9" overflow="hidden"><g style="isolation:isolate" transform="translate(0.5 0)"><use href="#B2" style="mix-blend-mode:screen"/></g></svg></g>
<g transform="translate(276.2 281.0)"><rect x="0" y="0" width="80.1" height="79.9" fill="#000"/><svg x="0" y="0" width="80.1" height="79.9" overflow="hidden"><g style="isolation:isolate" transform="translate(-0.1 0)"><use href="#R2" style="mix-blend-mode:screen"/><use href="#B2" style="mix-blend-mode:screen"/><use href="#G2" style="mix-blend-mode:screen"/></g></svg></g>
<text x="371.30" y="195.60" font-size="16" text-anchor="start" font-weight="bold" font-style="normal" fill="#000">f</text>
<line x1="413.40" y1="212.45" x2="413.40" y2="336.00" stroke="#2a2a2a" stroke-width="1.0" stroke-linecap="butt"/>
<line x1="408.10" y1="212.95" x2="413.40" y2="212.95" stroke="#2a2a2a" stroke-width="1.0" stroke-linecap="butt"/>
<text x="407.30" y="215.45" font-size="10" text-anchor="end" font-weight="normal" font-style="normal" fill="#0c0c0c">2.0</text>
<line x1="408.10" y1="243.60" x2="413.40" y2="243.60" stroke="#2a2a2a" stroke-width="1.0" stroke-linecap="butt"/>
<text x="407.30" y="246.10" font-size="10" text-anchor="end" font-weight="normal" font-style="normal" fill="#0c0c0c">1.5</text>
<line x1="408.10" y1="274.20" x2="413.40" y2="274.20" stroke="#2a2a2a" stroke-width="1.0" stroke-linecap="butt"/>
<text x="407.30" y="276.70" font-size="10" text-anchor="end" font-weight="normal" font-style="normal" fill="#0c0c0c">1.0</text>
<line x1="408.10" y1="304.90" x2="413.40" y2="304.90" stroke="#2a2a2a" stroke-width="1.0" stroke-linecap="butt"/>
<text x="407.30" y="307.40" font-size="10" text-anchor="end" font-weight="normal" font-style="normal" fill="#0c0c0c">0.5</text>
<line x1="408.10" y1="335.50" x2="413.40" y2="335.50" stroke="#2a2a2a" stroke-width="1.0" stroke-linecap="butt"/>
<text x="407.30" y="338.00" font-size="10" text-anchor="end" font-weight="normal" font-style="normal" fill="#0c0c0c">0.0</text>
<line x1="412.90" y1="335.50" x2="466.70" y2="335.50" stroke="#2a2a2a" stroke-width="1.0" stroke-linecap="butt"/>
<line x1="428.50" y1="335.50" x2="428.50" y2="340.70" stroke="#2a2a2a" stroke-width="1.0" stroke-linecap="butt"/>
<line x1="450.80" y1="335.50" x2="450.80" y2="340.70" stroke="#2a2a2a" stroke-width="1.0" stroke-linecap="butt"/>
<rect x="420.90" y="274.30" width="14.90" height="60.70" fill="#fd9f9f"/>
<rect x="443.30" y="308.10" width="15.00" height="26.90" fill="#8dbcf6"/>
<line x1="428.40" y1="258.80" x2="428.40" y2="274.30" stroke="#111" stroke-width="0.9" stroke-linecap="butt"/>
<line x1="424.65" y1="258.80" x2="432.15" y2="258.80" stroke="#111" stroke-width="0.9" stroke-linecap="butt"/>
<line x1="450.70" y1="305.10" x2="450.70" y2="308.10" stroke="#111" stroke-width="0.9" stroke-linecap="butt"/>
<line x1="447.30" y1="305.10" x2="454.10" y2="305.10" stroke="#111" stroke-width="0.9" stroke-linecap="butt"/>
<circle cx="428.40" cy="261.80" r="1.299" fill="#000"/>
<circle cx="428.40" cy="269.60" r="1.299" fill="#000"/>
<circle cx="428.30" cy="292.00" r="1.299" fill="#000"/>
<rect x="449.51" y="303.91" width="2.372" height="2.372" fill="#000"/>
<rect x="454.51" y="307.51" width="2.372" height="2.372" fill="#000"/>
<rect x="449.51" y="309.91" width="2.372" height="2.372" fill="#000"/>
<text x="386.90" y="273.20" font-size="10" text-anchor="middle" font-weight="normal" font-style="normal" fill="#0c0c0c" transform="rotate(-90 386.90 273.20)">MitoSOX MFI (fold)</text>
<text x="438.50" y="246.20" font-size="8.5" text-anchor="middle" font-weight="normal" font-style="normal" fill="#0c0c0c">p=0.0214</text>
<line x1="427.20" y1="247.70" x2="450.00" y2="247.70" stroke="#4a4040" stroke-width="0.8" stroke-linecap="butt"/>
<text x="432.00" y="347.30" font-size="10" text-anchor="end" font-weight="normal" font-style="normal" fill="#0c0c0c" transform="rotate(-30 432.00 347.30)">DMSO</text>
<text x="454.30" y="347.30" font-size="10" text-anchor="end" font-weight="normal" font-style="normal" fill="#0c0c0c" transform="rotate(-30 454.30 347.30)">CCCP</text>
<text x="484.00" y="196.30" font-size="16" text-anchor="start" font-weight="bold" font-style="normal" fill="#000">g</text>
<line x1="526.90" y1="212.60" x2="526.90" y2="336.00" stroke="#2a2a2a" stroke-width="1.0" stroke-linecap="butt"/>
<line x1="521.90" y1="213.10" x2="526.90" y2="213.10" stroke="#2a2a2a" stroke-width="1.0" stroke-linecap="butt"/>
<text x="520.80" y="215.50" font-size="10" text-anchor="end" font-weight="normal" font-style="normal" fill="#0c0c0c">8</text>
<line x1="521.90" y1="243.70" x2="526.90" y2="243.70" stroke="#2a2a2a" stroke-width="1.0" stroke-linecap="butt"/>
<text x="520.80" y="246.10" font-size="10" text-anchor="end" font-weight="normal" font-style="normal" fill="#0c0c0c">6</text>
<line x1="521.90" y1="274.30" x2="526.90" y2="274.30" stroke="#2a2a2a" stroke-width="1.0" stroke-linecap="butt"/>
<text x="520.80" y="276.70" font-size="10" text-anchor="end" font-weight="normal" font-style="normal" fill="#0c0c0c">4</text>
<line x1="521.90" y1="304.90" x2="526.90" y2="304.90" stroke="#2a2a2a" stroke-width="1.0" stroke-linecap="butt"/>
<text x="520.80" y="307.30" font-size="10" text-anchor="end" font-weight="normal" font-style="normal" fill="#0c0c0c">2</text>
<line x1="521.90" y1="335.50" x2="526.90" y2="335.50" stroke="#2a2a2a" stroke-width="1.0" stroke-linecap="butt"/>
<text x="520.80" y="337.90" font-size="10" text-anchor="end" font-weight="normal" font-style="normal" fill="#0c0c0c">0</text>
<line x1="526.40" y1="335.50" x2="582.50" y2="335.50" stroke="#2a2a2a" stroke-width="1.0" stroke-linecap="butt"/>
<line x1="542.50" y1="335.50" x2="542.50" y2="340.70" stroke="#2a2a2a" stroke-width="1.0" stroke-linecap="butt"/>
<line x1="566.10" y1="335.50" x2="566.10" y2="340.70" stroke="#2a2a2a" stroke-width="1.0" stroke-linecap="butt"/>
<rect x="534.90" y="285.60" width="15.60" height="49.40" fill="#fd9f9f"/>
<rect x="558.40" y="244.00" width="15.70" height="91.00" fill="#8dbcf6"/>
<line x1="542.70" y1="271.00" x2="542.70" y2="285.60" stroke="#111" stroke-width="0.9" stroke-linecap="butt"/>
<line x1="539.00" y1="271.00" x2="546.40" y2="271.00" stroke="#111" stroke-width="0.9" stroke-linecap="butt"/>
<line x1="566.30" y1="231.30" x2="566.30" y2="244.00" stroke="#111" stroke-width="0.9" stroke-linecap="butt"/>
<line x1="562.35" y1="231.30" x2="570.25" y2="231.30" stroke="#111" stroke-width="0.9" stroke-linecap="butt"/>
<circle cx="537.60" cy="274.00" r="1.299" fill="#000"/>
<circle cx="542.70" cy="274.00" r="1.299" fill="#000"/>
<circle cx="542.70" cy="289.60" r="1.299" fill="#000"/>
<circle cx="542.70" cy="305.10" r="1.299" fill="#000"/>
<rect x="565.21" y="226.61" width="2.372" height="2.372" fill="#000"/>
<rect x="560.31" y="242.21" width="2.372" height="2.372" fill="#000"/>
<rect x="569.91" y="242.21" width="2.372" height="2.372" fill="#000"/>
<rect x="565.21" y="258.01" width="2.372" height="2.372" fill="#000"/>
<text x="508.20" y="277.10" font-size="10" text-anchor="middle" font-weight="normal" font-style="normal" fill="#0c0c0c" transform="rotate(-90 508.20 277.10)">Number of bacteria/cell</text>
<text x="555.70" y="220.30" font-size="8.5" text-anchor="middle" font-weight="normal" font-style="normal" fill="#0c0c0c">p=0.0047</text>
<line x1="542.70" y1="223.30" x2="566.20" y2="223.30" stroke="#4a4040" stroke-width="0.8" stroke-linecap="butt"/>
<text x="548.30" y="347.40" font-size="10" text-anchor="end" font-weight="normal" font-style="normal" fill="#0c0c0c" transform="rotate(-30 548.30 347.40)">DMSO</text>
<text x="571.30" y="347.50" font-size="10" text-anchor="end" font-weight="normal" font-style="normal" fill="#0c0c0c" transform="rotate(-30 571.30 347.50)">CCCP</text>
<text x="1.30" y="397.00" font-size="16" text-anchor="start" font-weight="bold" font-style="normal" fill="#000">h</text>
<line x1="43.40" y1="407.00" x2="43.40" y2="530.50" stroke="#2a2a2a" stroke-width="1.0" stroke-linecap="butt"/>
<line x1="38.00" y1="407.50" x2="43.40" y2="407.50" stroke="#2a2a2a" stroke-width="1.0" stroke-linecap="butt"/>
<text x="37.30" y="410.40" font-size="10" text-anchor="end" font-weight="normal" font-style="normal" fill="#0c0c0c">15</text>
<line x1="38.00" y1="448.30" x2="43.40" y2="448.30" stroke="#2a2a2a" stroke-width="1.0" stroke-linecap="butt"/>
<text x="37.30" y="451.20" font-size="10" text-anchor="end" font-weight="normal" font-style="normal" fill="#0c0c0c">10</text>
<line x1="38.00" y1="489.20" x2="43.40" y2="489.20" stroke="#2a2a2a" stroke-width="1.0" stroke-linecap="butt"/>
<text x="37.30" y="492.10" font-size="10" text-anchor="end" font-weight="normal" font-style="normal" fill="#0c0c0c">5</text>
<line x1="38.00" y1="530.00" x2="43.40" y2="530.00" stroke="#2a2a2a" stroke-width="1.0" stroke-linecap="butt"/>
<text x="37.30" y="532.90" font-size="10" text-anchor="end" font-weight="normal" font-style="normal" fill="#0c0c0c">0</text>
<line x1="42.90" y1="530.00" x2="100.70" y2="530.00" stroke="#2a2a2a" stroke-width="1.0" stroke-linecap="butt"/>
<line x1="59.50" y1="530.00" x2="59.50" y2="534.90" stroke="#2a2a2a" stroke-width="1.0" stroke-linecap="butt"/>
<line x1="84.00" y1="530.00" x2="84.00" y2="534.90" stroke="#2a2a2a" stroke-width="1.0" stroke-linecap="butt"/>
<rect x="51.30" y="498.10" width="16.50" height="31.40" fill="#fd9f9f"/>
<rect x="76.00" y="447.40" width="16.00" height="82.10" fill="#8dbcf6"/>
<line x1="59.40" y1="492.20" x2="59.40" y2="498.10" stroke="#111" stroke-width="0.9" stroke-linecap="butt"/>
<line x1="55.60" y1="492.20" x2="63.20" y2="492.20" stroke="#111" stroke-width="0.9" stroke-linecap="butt"/>
<line x1="84.10" y1="436.90" x2="84.10" y2="447.40" stroke="#111" stroke-width="0.9" stroke-linecap="butt"/>
<line x1="80.60" y1="436.90" x2="87.60" y2="436.90" stroke="#111" stroke-width="0.9" stroke-linecap="butt"/>
<circle cx="59.40" cy="490.80" r="1.299" fill="#000"/>
<circle cx="59.40" cy="496.80" r="1.299" fill="#000"/>
<circle cx="54.20" cy="502.70" r="1.299" fill="#000"/>
<circle cx="64.20" cy="501.10" r="1.299" fill="#000"/>
<rect x="82.91" y="435.21" width="2.372" height="2.372" fill="#000"/>
<rect x="82.91" y="440.51" width="2.372" height="2.372" fill="#000"/>
<rect x="78.01" y="455.91" width="2.372" height="2.372" fill="#000"/>
<rect x="87.81" y="453.81" width="2.372" height="2.372" fill="#000"/>
<text x="20.80" y="465.80" font-size="10" text-anchor="middle" font-weight="normal" font-style="normal" fill="#0c0c0c" transform="rotate(-90 20.80 465.80)">CFU per well (x10<tspan font-size="4.6" dy="-3.8">5</tspan><tspan dy="3.8">)</tspan></text>
<text x="69.10" y="422.00" font-size="8.5" text-anchor="middle" font-weight="normal" font-style="normal" fill="#0c0c0c">p=0.0001</text>
<line x1="58.30" y1="424.30" x2="83.70" y2="424.30" stroke="#4a4040" stroke-width="0.8" stroke-linecap="butt"/>
<text x="62.70" y="541.90" font-size="10" text-anchor="end" font-weight="normal" font-style="normal" fill="#0c0c0c" transform="rotate(-30 62.70 541.90)">DMSO</text>
<text x="89.30" y="541.90" font-size="10" text-anchor="end" font-weight="normal" font-style="normal" fill="#0c0c0c" transform="rotate(-30 89.30 541.90)">MitoTEMPO</text>
<text x="129.00" y="397.00" font-size="16" text-anchor="start" font-weight="bold" font-style="normal" fill="#000">i</text>
<line x1="171.45" y1="406.95" x2="171.45" y2="530.10" stroke="#2a2a2a" stroke-width="1.0" stroke-linecap="butt"/>
<line x1="166.15" y1="407.45" x2="171.45" y2="407.45" stroke="#2a2a2a" stroke-width="1.0" stroke-linecap="butt"/>
<text x="165.20" y="410.65" font-size="10" text-anchor="end" font-weight="normal" font-style="normal" fill="#0c0c0c">2.5</text>
<line x1="166.15" y1="431.90" x2="171.45" y2="431.90" stroke="#2a2a2a" stroke-width="1.0" stroke-linecap="butt"/>
<text x="165.20" y="435.10" font-size="10" text-anchor="end" font-weight="normal" font-style="normal" fill="#0c0c0c">2.0</text>
<line x1="166.15" y1="456.30" x2="171.45" y2="456.30" stroke="#2a2a2a" stroke-width="1.0" stroke-linecap="butt"/>
<text x="165.20" y="459.50" font-size="10" text-anchor="end" font-weight="normal" font-style="normal" fill="#0c0c0c">1.5</text>
<line x1="166.15" y1="480.70" x2="171.45" y2="480.70" stroke="#2a2a2a" stroke-width="1.0" stroke-linecap="butt"/>
<text x="165.20" y="483.90" font-size="10" text-anchor="end" font-weight="normal" font-style="normal" fill="#0c0c0c">1.0</text>
<line x1="166.15" y1="505.20" x2="171.45" y2="505.20" stroke="#2a2a2a" stroke-width="1.0" stroke-linecap="butt"/>
<text x="165.20" y="508.40" font-size="10" text-anchor="end" font-weight="normal" font-style="normal" fill="#0c0c0c">0.5</text>
<line x1="166.15" y1="529.60" x2="171.45" y2="529.60" stroke="#2a2a2a" stroke-width="1.0" stroke-linecap="butt"/>
<text x="165.20" y="532.80" font-size="10" text-anchor="end" font-weight="normal" font-style="normal" fill="#0c0c0c">0.0</text>
<line x1="170.95" y1="529.60" x2="247.20" y2="529.60" stroke="#2a2a2a" stroke-width="1.0" stroke-linecap="butt"/>
<line x1="186.50" y1="529.60" x2="186.50" y2="534.90" stroke="#2a2a2a" stroke-width="1.0" stroke-linecap="butt"/>
<line x1="208.70" y1="529.60" x2="208.70" y2="534.90" stroke="#2a2a2a" stroke-width="1.0" stroke-linecap="butt"/>
<line x1="231.10" y1="529.60" x2="231.10" y2="534.90" stroke="#2a2a2a" stroke-width="1.0" stroke-linecap="butt"/>
<rect x="178.90" y="480.50" width="15.10" height="48.60" fill="#fd9f9f"/>
<rect x="201.10" y="446.60" width="15.10" height="82.50" fill="#8dbcf6"/>
<rect x="223.80" y="466.10" width="15.00" height="63.00" fill="#b2f0d8"/>
<line x1="186.40" y1="476.50" x2="186.40" y2="480.50" stroke="#111" stroke-width="0.9" stroke-linecap="butt"/>
<line x1="182.90" y1="476.50" x2="189.90" y2="476.50" stroke="#111" stroke-width="0.9" stroke-linecap="butt"/>
<line x1="208.70" y1="437.50" x2="208.70" y2="446.60" stroke="#111" stroke-width="0.9" stroke-linecap="butt"/>
<line x1="205.10" y1="437.50" x2="212.30" y2="437.50" stroke="#111" stroke-width="0.9" stroke-linecap="butt"/>
<line x1="231.30" y1="459.20" x2="231.30" y2="466.10" stroke="#111" stroke-width="0.9" stroke-linecap="butt"/>
<line x1="227.70" y1="459.20" x2="234.90" y2="459.20" stroke="#111" stroke-width="0.9" stroke-linecap="butt"/>
<circle cx="186.40" cy="479.90" r="1.299" fill="#000"/>
<circle cx="186.40" cy="485.40" r="1.299" fill="#000"/>
<rect x="207.51" y="445.01" width="2.372" height="2.372" fill="#000"/>
<rect x="207.51" y="454.51" width="2.372" height="2.372" fill="#000"/>
<path d="M231.30 464.01 L232.59 466.37 L230.01 466.37Z" fill="#000"/>
<path d="M231.30 473.71 L232.59 476.07 L230.01 476.07Z" fill="#000"/>
<path d="M231.30 460.51 L232.59 462.87 L230.01 462.87Z" fill="#000"/>
<text x="146.70" y="468.70" font-size="10" text-anchor="middle" font-weight="normal" font-style="normal" fill="#0c0c0c" transform="rotate(-90 146.70 468.70)">MitoSOX MFI (fold)</text>
<text x="219.10" y="417.30" font-size="8.5" text-anchor="middle" font-weight="normal" font-style="normal" fill="#0c0c0c">p=0.0312</text>
<line x1="208.20" y1="418.60" x2="230.10" y2="418.60" stroke="#4a4040" stroke-width="0.8" stroke-linecap="butt"/>
<text x="194.70" y="429.90" font-size="8.5" text-anchor="middle" font-weight="normal" font-style="normal" fill="#0c0c0c">p=0.0023</text>
<line x1="186.30" y1="431.30" x2="207.30" y2="431.30" stroke="#4a4040" stroke-width="0.8" stroke-linecap="butt"/>
<text x="189.80" y="541.70" font-size="10" text-anchor="end" font-weight="normal" font-style="normal" fill="#0c0c0c" transform="rotate(-30 189.80 541.70)">uninfected</text>
<text x="212.40" y="541.50" font-size="10" text-anchor="end" font-weight="normal" font-style="normal" fill="#0c0c0c" transform="rotate(-30 212.40 541.50)">DMSO</text>
<text x="234.10" y="542.00" font-size="10" text-anchor="end" font-weight="normal" font-style="normal" fill="#0c0c0c" transform="rotate(-30 234.10 542.00)">CCCP</text>
<line x1="184.80" y1="558.50" x2="231.30" y2="558.50" stroke="#4a4040" stroke-width="1.0" stroke-linecap="butt"/>
<text x="208.80" y="568.70" font-size="9.5" text-anchor="middle" font-weight="normal" font-style="italic" fill="#2e2424">B. pseudomallei</text>
<text x="276.20" y="397.00" font-size="16" text-anchor="start" font-weight="bold" font-style="normal" fill="#000">j</text>
<rect x="315.30" y="394.20" width="81.30" height="30.20" fill="#fff" stroke="#8c8484" stroke-width="0.9"/>
<rect x="323.60" y="400.40" width="11.40" height="5.40" fill="#fd9f9f"/>
<rect x="323.60" y="413.90" width="11.40" height="5.70" fill="#8dbcf6"/>
<text x="338.50" y="406.40" font-size="10" text-anchor="start" font-weight="normal" font-style="normal" fill="#0c0c0c">DMSO</text>
<text x="338.50" y="420.20" font-size="10" text-anchor="start" font-weight="normal" font-style="normal" fill="#0c0c0c">MitoTEMPO</text>
<line x1="310.45" y1="416.95" x2="310.45" y2="540.00" stroke="#2a2a2a" stroke-width="1.0" stroke-linecap="butt"/>
<line x1="305.15" y1="417.45" x2="310.45" y2="417.45" stroke="#2a2a2a" stroke-width="1.0" stroke-linecap="butt"/>
<text x="304.60" y="421.65" font-size="10" text-anchor="end" font-weight="normal" font-style="normal" fill="#0c0c0c">8</text>
<line x1="305.15" y1="448.00" x2="310.45" y2="448.00" stroke="#2a2a2a" stroke-width="1.0" stroke-linecap="butt"/>
<text x="304.60" y="452.20" font-size="10" text-anchor="end" font-weight="normal" font-style="normal" fill="#0c0c0c">6</text>
<line x1="305.15" y1="478.50" x2="310.45" y2="478.50" stroke="#2a2a2a" stroke-width="1.0" stroke-linecap="butt"/>
<text x="304.60" y="482.70" font-size="10" text-anchor="end" font-weight="normal" font-style="normal" fill="#0c0c0c">4</text>
<line x1="305.15" y1="509.00" x2="310.45" y2="509.00" stroke="#2a2a2a" stroke-width="1.0" stroke-linecap="butt"/>
<text x="304.60" y="513.20" font-size="10" text-anchor="end" font-weight="normal" font-style="normal" fill="#0c0c0c">2</text>
<line x1="305.15" y1="539.50" x2="310.45" y2="539.50" stroke="#2a2a2a" stroke-width="1.0" stroke-linecap="butt"/>
<text x="304.60" y="543.70" font-size="10" text-anchor="end" font-weight="normal" font-style="normal" fill="#0c0c0c">0</text>
<line x1="309.95" y1="539.50" x2="418.40" y2="539.50" stroke="#2a2a2a" stroke-width="1.0" stroke-linecap="butt"/>
<line x1="335.40" y1="539.50" x2="335.40" y2="544.80" stroke="#2a2a2a" stroke-width="1.0" stroke-linecap="butt"/>
<line x1="392.50" y1="539.50" x2="392.50" y2="544.80" stroke="#2a2a2a" stroke-width="1.0" stroke-linecap="butt"/>
<rect x="317.70" y="537.00" width="14.20" height="2.00" fill="#fd9f9f"/>
<rect x="339.10" y="536.60" width="14.30" height="2.40" fill="#8dbcf6"/>
<rect x="374.80" y="503.40" width="14.20" height="35.60" fill="#fd9f9f"/>
<rect x="396.40" y="462.30" width="14.30" height="76.70" fill="#8dbcf6"/>
<line x1="382.00" y1="496.10" x2="382.00" y2="503.40" stroke="#111" stroke-width="0.9" stroke-linecap="butt"/>
<line x1="378.00" y1="496.10" x2="386.00" y2="496.10" stroke="#111" stroke-width="0.9" stroke-linecap="butt"/>
<line x1="403.60" y1="449.40" x2="403.60" y2="462.30" stroke="#111" stroke-width="0.9" stroke-linecap="butt"/>
<line x1="400.60" y1="449.40" x2="406.60" y2="449.40" stroke="#111" stroke-width="0.9" stroke-linecap="butt"/>
<circle cx="318.80" cy="537.50" r="1.299" fill="#000"/>
<circle cx="324.90" cy="536.60" r="1.299" fill="#000"/>
<circle cx="331.00" cy="537.50" r="1.299" fill="#000"/>
<rect x="339.01" y="536.31" width="2.372" height="2.372" fill="#000"/>
<rect x="345.11" y="535.41" width="2.372" height="2.372" fill="#000"/>
<rect x="351.11" y="535.81" width="2.372" height="2.372" fill="#000"/>
<circle cx="382.00" cy="493.90" r="1.299" fill="#000"/>
<circle cx="382.00" cy="501.20" r="1.299" fill="#000"/>
<circle cx="375.90" cy="509.00" r="1.299" fill="#000"/>
<circle cx="387.70" cy="509.00" r="1.299" fill="#000"/>
<rect x="402.41" y="447.11" width="2.372" height="2.372" fill="#000"/>
<rect x="402.41" y="457.21" width="2.372" height="2.372" fill="#000"/>
<rect x="402.41" y="463.11" width="2.372" height="2.372" fill="#000"/>
<rect x="402.41" y="476.91" width="2.372" height="2.372" fill="#000"/>
<text x="336.00" y="556.00" font-size="10" text-anchor="middle" font-weight="normal" font-style="normal" fill="#0c0c0c">0 h</text>
<text x="393.30" y="556.00" font-size="10" text-anchor="middle" font-weight="normal" font-style="normal" fill="#0c0c0c">4 h</text>
<text x="293.00" y="476.70" font-size="10" text-anchor="middle" font-weight="normal" font-style="normal" fill="#0c0c0c" transform="rotate(-90 293.00 476.70)">CFU per well (x10<tspan font-size="4.6" dy="-3.8">3</tspan><tspan dy="3.8">)</tspan></text>
<text x="336.60" y="529.00" font-size="8.5" text-anchor="middle" font-weight="normal" font-style="normal" fill="#0c0c0c">p=0.6291</text>
<line x1="324.90" y1="530.70" x2="347.90" y2="530.70" stroke="#4a4040" stroke-width="0.8" stroke-linecap="butt"/>
<text x="391.20" y="442.40" font-size="8.5" text-anchor="middle" font-weight="normal" font-style="normal" fill="#0c0c0c">p=0.0014</text>
<line x1="382.30" y1="444.60" x2="403.10" y2="444.60" stroke="#4a4040" stroke-width="0.8" stroke-linecap="butt"/>
<text x="448.80" y="397.00" font-size="16" text-anchor="start" font-weight="bold" font-style="normal" fill="#000">k</text>
<text x="495.20" y="402.80" font-size="10" text-anchor="start" font-weight="normal" font-style="normal" fill="#0c0c0c">Liver</text>
<line x1="489.45" y1="407.40" x2="489.45" y2="530.95" stroke="#2a2a2a" stroke-width="1.0" stroke-linecap="butt"/>
<line x1="484.05" y1="407.90" x2="489.45" y2="407.90" stroke="#2a2a2a" stroke-width="1.0" stroke-linecap="butt"/>
<text x="483.30" y="411.80" font-size="10" text-anchor="end" font-weight="normal" font-style="normal" fill="#0c0c0c">6</text>
<line x1="484.05" y1="448.75" x2="489.45" y2="448.75" stroke="#2a2a2a" stroke-width="1.0" stroke-linecap="butt"/>
<text x="483.30" y="452.65" font-size="10" text-anchor="end" font-weight="normal" font-style="normal" fill="#0c0c0c">4</text>
<line x1="484.05" y1="489.60" x2="489.45" y2="489.60" stroke="#2a2a2a" stroke-width="1.0" stroke-linecap="butt"/>
<text x="483.30" y="493.50" font-size="10" text-anchor="end" font-weight="normal" font-style="normal" fill="#0c0c0c">2</text>
<line x1="484.05" y1="530.45" x2="489.45" y2="530.45" stroke="#2a2a2a" stroke-width="1.0" stroke-linecap="butt"/>
<text x="483.30" y="534.35" font-size="10" text-anchor="end" font-weight="normal" font-style="normal" fill="#0c0c0c">0</text>
<line x1="488.95" y1="530.45" x2="550.30" y2="530.45" stroke="#2a2a2a" stroke-width="1.0" stroke-linecap="butt"/>
<line x1="506.45" y1="530.45" x2="506.45" y2="535.75" stroke="#2a2a2a" stroke-width="1.0" stroke-linecap="butt"/>
<line x1="532.40" y1="530.45" x2="532.40" y2="535.75" stroke="#2a2a2a" stroke-width="1.0" stroke-linecap="butt"/>
<text x="469.70" y="469.60" font-size="10" text-anchor="middle" font-weight="normal" font-style="normal" fill="#0c0c0c" transform="rotate(-90 469.70 469.60)">CFU per gram (<tspan font-family='"Liberation Serif", serif' font-size="10">Log</tspan><tspan font-family='"Liberation Serif", serif' font-size="5" dy="1.5">10</tspan><tspan dy="-1.5">)</tspan></text>
<text x="519.70" y="415.00" font-size="8.5" text-anchor="middle" font-weight="normal" font-style="normal" fill="#0c0c0c">p=0.0020</text>
<line x1="507.50" y1="416.80" x2="532.30" y2="416.80" stroke="#4a4040" stroke-width="0.8" stroke-linecap="butt"/>
<line x1="506.30" y1="441.80" x2="506.30" y2="452.90" stroke="#000" stroke-width="0.9" stroke-linecap="butt"/>
<line x1="502.10" y1="441.80" x2="510.50" y2="441.80" stroke="#000" stroke-width="0.9" stroke-linecap="butt"/>
<line x1="502.10" y1="452.90" x2="510.50" y2="452.90" stroke="#000" stroke-width="0.9" stroke-linecap="butt"/>
<line x1="497.70" y1="447.10" x2="514.90" y2="447.10" stroke="#000" stroke-width="1.7" stroke-linecap="butt"/>
<circle cx="506.20" cy="439.30" r="1.85" fill="#000"/>
<circle cx="506.20" cy="443.90" r="1.85" fill="#000"/>
<circle cx="499.40" cy="452.20" r="1.85" fill="#000"/>
<circle cx="506.20" cy="450.10" r="1.85" fill="#000"/>
<circle cx="513.20" cy="450.70" r="1.85" fill="#000"/>
<line x1="532.30" y1="424.40" x2="532.30" y2="436.20" stroke="#000" stroke-width="0.9" stroke-linecap="butt"/>
<line x1="527.80" y1="424.40" x2="536.80" y2="424.40" stroke="#000" stroke-width="0.9" stroke-linecap="butt"/>
<line x1="527.80" y1="436.20" x2="536.80" y2="436.20" stroke="#000" stroke-width="0.9" stroke-linecap="butt"/>
<line x1="523.95" y1="430.40" x2="540.65" y2="430.40" stroke="#000" stroke-width="1.7" stroke-linecap="butt"/>
<circle cx="525.70" cy="426.40" r="1.65" fill="none" stroke="#000" stroke-width="0.85"/>
<circle cx="532.30" cy="426.90" r="1.65" fill="none" stroke="#000" stroke-width="0.85"/>
<circle cx="539.30" cy="424.30" r="1.65" fill="none" stroke="#000" stroke-width="0.85"/>
<circle cx="525.70" cy="437.90" r="1.65" fill="none" stroke="#000" stroke-width="0.85"/>
<circle cx="539.30" cy="436.30" r="1.65" fill="none" stroke="#000" stroke-width="0.85"/>
<text x="510.00" y="543.70" font-size="10" text-anchor="end" font-weight="normal" font-style="normal" fill="#0c0c0c" transform="rotate(-30 510.00 543.70)">DMSO</text>
<text x="538.80" y="543.70" font-size="10" text-anchor="end" font-weight="normal" font-style="normal" fill="#0c0c0c" transform="rotate(-30 538.80 543.70)">MitoTEMPO</text>
<text x="580.80" y="397.00" font-size="16" text-anchor="start" font-weight="bold" font-style="normal" fill="#000">l</text>
<text x="630.20" y="403.10" font-size="10" text-anchor="start" font-weight="normal" font-style="normal" fill="#0c0c0c">Spleen</text>
<line x1="623.45" y1="406.95" x2="623.45" y2="530.00" stroke="#2a2a2a" stroke-width="1.0" stroke-linecap="butt"/>
<line x1="618.65" y1="407.45" x2="623.45" y2="407.45" stroke="#2a2a2a" stroke-width="1.0" stroke-linecap="butt"/>
<text x="619.10" y="411.65" font-size="10" text-anchor="end" font-weight="normal" font-style="normal" fill="#0c0c0c">8</text>
<line x1="618.65" y1="437.95" x2="623.45" y2="437.95" stroke="#2a2a2a" stroke-width="1.0" stroke-linecap="butt"/>
<text x="619.10" y="442.15" font-size="10" text-anchor="end" font-weight="normal" font-style="normal" fill="#0c0c0c">6</text>
<line x1="618.65" y1="468.50" x2="623.45" y2="468.50" stroke="#2a2a2a" stroke-width="1.0" stroke-linecap="butt"/>
<text x="619.10" y="472.70" font-size="10" text-anchor="end" font-weight="normal" font-style="normal" fill="#0c0c0c">4</text>
<line x1="618.65" y1="499.00" x2="623.45" y2="499.00" stroke="#2a2a2a" stroke-width="1.0" stroke-linecap="butt"/>
<text x="619.10" y="503.20" font-size="10" text-anchor="end" font-weight="normal" font-style="normal" fill="#0c0c0c">2</text>
<line x1="618.65" y1="529.50" x2="623.45" y2="529.50" stroke="#2a2a2a" stroke-width="1.0" stroke-linecap="butt"/>
<text x="619.10" y="533.70" font-size="10" text-anchor="end" font-weight="normal" font-style="normal" fill="#0c0c0c">0</text>
<line x1="622.95" y1="529.50" x2="686.00" y2="529.50" stroke="#2a2a2a" stroke-width="1.0" stroke-linecap="butt"/>
<line x1="640.50" y1="529.50" x2="640.50" y2="534.90" stroke="#2a2a2a" stroke-width="1.0" stroke-linecap="butt"/>
<line x1="666.90" y1="529.50" x2="666.90" y2="534.90" stroke="#2a2a2a" stroke-width="1.0" stroke-linecap="butt"/>
<text x="606.30" y="469.20" font-size="10" text-anchor="middle" font-weight="normal" font-style="normal" fill="#0c0c0c" transform="rotate(-90 606.30 469.20)">CFU per gram (<tspan font-family='"Liberation Serif", serif' font-size="10">Log</tspan><tspan font-family='"Liberation Serif", serif' font-size="5" dy="1.5">10</tspan><tspan dy="-1.5">)</tspan></text>
<text x="655.60" y="421.40" font-size="8.5" text-anchor="middle" font-weight="normal" font-style="normal" fill="#0c0c0c">p=0.0024</text>
<line x1="642.00" y1="423.10" x2="668.40" y2="423.10" stroke="#4a4040" stroke-width="0.8" stroke-linecap="butt"/>
<line x1="640.90" y1="460.90" x2="640.90" y2="475.80" stroke="#000" stroke-width="0.9" stroke-linecap="butt"/>
<line x1="636.90" y1="460.90" x2="644.90" y2="460.90" stroke="#000" stroke-width="0.9" stroke-linecap="butt"/>
<line x1="636.90" y1="475.80" x2="644.90" y2="475.80" stroke="#000" stroke-width="0.9" stroke-linecap="butt"/>
<line x1="632.20" y1="468.50" x2="649.60" y2="468.50" stroke="#000" stroke-width="1.9" stroke-linecap="butt"/>
<circle cx="634.20" cy="461.50" r="1.95" fill="#000"/>
<circle cx="640.90" cy="460.10" r="1.95" fill="#000"/>
<circle cx="640.90" cy="471.90" r="1.95" fill="#000"/>
<circle cx="647.80" cy="472.70" r="1.95" fill="#000"/>
<circle cx="640.90" cy="476.20" r="1.95" fill="#000"/>
<line x1="667.00" y1="432.00" x2="667.00" y2="453.40" stroke="#000" stroke-width="0.9" stroke-linecap="butt"/>
<line x1="663.00" y1="432.00" x2="671.00" y2="432.00" stroke="#000" stroke-width="0.9" stroke-linecap="butt"/>
<line x1="663.00" y1="453.40" x2="671.00" y2="453.40" stroke="#000" stroke-width="0.9" stroke-linecap="butt"/>
<line x1="658.40" y1="442.90" x2="675.60" y2="442.90" stroke="#000" stroke-width="1.9" stroke-linecap="butt"/>
<circle cx="660.10" cy="431.50" r="1.7" fill="none" stroke="#000" stroke-width="0.9"/>
<circle cx="673.90" cy="431.40" r="1.7" fill="none" stroke="#000" stroke-width="0.9"/>
<circle cx="667.00" cy="449.90" r="1.7" fill="none" stroke="#000" stroke-width="0.9"/>
<circle cx="674.00" cy="450.10" r="1.7" fill="none" stroke="#000" stroke-width="0.9"/>
<circle cx="660.10" cy="452.70" r="1.7" fill="none" stroke="#000" stroke-width="0.9"/>
<text x="646.50" y="543.20" font-size="10" text-anchor="end" font-weight="normal" font-style="normal" fill="#0c0c0c" transform="rotate(-30 646.50 543.20)">DMSO</text>
<text x="675.30" y="543.20" font-size="10" text-anchor="end" font-weight="normal" font-style="normal" fill="#0c0c0c" transform="rotate(-30 675.30 543.20)">MitoTEMPO</text>
</svg>
</body></html>
